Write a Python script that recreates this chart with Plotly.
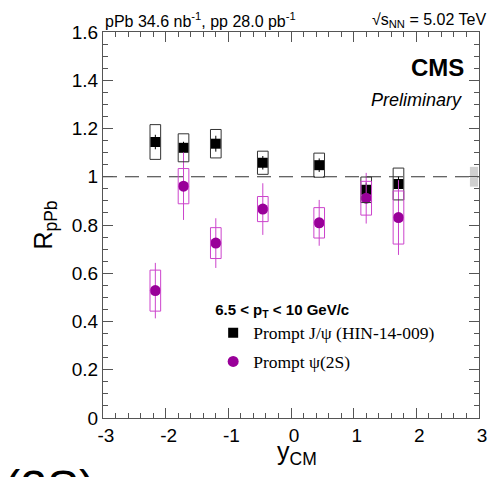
import plotly.graph_objects as go

# ---- data ----
y_cm = [-2.165, -1.715, -1.2, -0.45, 0.45, 1.2, 1.715]

jpsi_r = [1.144, 1.120, 1.137, 1.058, 1.048, 0.946, 0.970]
jpsi_stat = [0.030, 0.025, 0.033, 0.028, 0.028, 0.030, 0.030]
jpsi_sys = [0.072, 0.058, 0.059, 0.048, 0.050, 0.053, 0.066]

psi2s_r = [0.528, 0.961, 0.725, 0.866, 0.809, 0.911, 0.831]
psi2s_stat = [0.115, 0.140, 0.103, 0.107, 0.095, 0.105, 0.155]
psi2s_sys = [0.085, 0.073, 0.064, 0.052, 0.063, 0.070, 0.110]

global_unc = 0.041
box_halfwidth = 0.085

x_ticks = [-3, -2, -1, 0, 1, 2, 3]
y_ticks = [0, 0.2, 0.4, 0.6, 0.8, 1.0, 1.2, 1.4, 1.6]
y_ticklabels = ["0", "0.2", "0.4", "0.6", "0.8", "1", "1.2", "1.4", "1.6"]

SANS = "Liberation Sans, Arial, sans-serif"
SERIF = "Liberation Serif, Times New Roman, serif"
PURPLE = "#990099"
PINK = "#cc44cc"

fig = go.Figure()

shapes = []
# systematic boxes
for x, v, s in zip(y_cm, jpsi_r, jpsi_sys):
    shapes.append(dict(type="rect", xref="x", yref="y", x0=x - box_halfwidth, x1=x + box_halfwidth,
                       y0=v - s, y1=v + s, line=dict(color="#333333", width=1), fillcolor="rgba(0,0,0,0)"))
for x, v, s in zip(y_cm, psi2s_r, psi2s_sys):
    shapes.append(dict(type="rect", xref="x", yref="y", x0=x - box_halfwidth, x1=x + box_halfwidth,
                       y0=v - s, y1=v + s, line=dict(color=PINK, width=1), fillcolor="rgba(0,0,0,0)"))
# global uncertainty box
shapes.append(dict(type="rect", xref="x", yref="y", x0=2.855, x1=2.985,
                   y0=1 - global_unc, y1=1 + global_unc, line=dict(width=0), fillcolor="#d0d0d0",
                   layer="below"))
# unity line
shapes.append(dict(type="line", xref="x", yref="y", x0=-3, x1=3, y0=1, y1=1,
                   line=dict(color="#333333", width=1.2, dash="14px,8px"), layer="below"))

fig.add_trace(go.Scatter(
    x=y_cm, y=jpsi_r, mode="markers", name="Prompt J/\u03c8 (HIN-14-009)",
    marker=dict(symbol="square", size=10, color="black"),
    error_y=dict(type="data", array=jpsi_stat, color="black", thickness=1, width=0),
    legendgroup="a"))
fig.add_trace(go.Scatter(
    x=y_cm, y=psi2s_r, mode="markers", name="Prompt \u03c8(2S)",
    marker=dict(symbol="circle", size=11, color=PURPLE),
    error_y=dict(type="data", array=psi2s_stat, color=PINK, thickness=1, width=0),
    legendgroup="b"))

axis_common = dict(showline=True, linecolor="#555555", linewidth=1, mirror="allticks",
                   ticks="inside", ticklen=10, tickcolor="#555555", showgrid=False, zeroline=False,
                   automargin=False,
                   tickfont=dict(family=SANS, size=19, color="black"))

fig.update_xaxes(range=[-3, 3], tickvals=x_ticks, ticktext=[str(t) for t in x_ticks],
                 ticklabelshift=3,
                 minor=dict(dtick=0.2, ticklen=5, ticks="inside", tickcolor="#555555"),
                 **axis_common)
fig.update_yaxes(range=[0, 1.6], tickvals=y_ticks, ticktext=y_ticklabels,
                 minor=dict(dtick=0.05, ticklen=5, ticks="inside", tickcolor="#555555"),
                 title=dict(text="R<sub>pPb</sub>", font=dict(family=SANS, size=25, color="black"), standoff=12),
                 **axis_common)

annotations = [
    dict(text="y<sub>CM</sub>", xref="paper", yref="paper", x=0.515, y=-0.045,
         xanchor="center", yanchor="top", showarrow=False,
         font=dict(family=SANS, size=25, color="black")),
    dict(text="pPb 34.6 nb<sup>-1</sup>, pp 28.0 pb<sup>-1</sup>", xref="paper", yref="paper",
         x=0.0, y=1.0, xanchor="left", yanchor="bottom", showarrow=False,
         font=dict(family=SANS, size=16, color="black")),
    dict(text="\u221as<sub>NN</sub> = 5.02 TeV", xref="paper", yref="paper",
         x=1.024, y=1.0, xanchor="right", yanchor="bottom", showarrow=False,
         font=dict(family=SANS, size=16, color="black")),
    dict(text="<b>CMS</b>", xref="paper", yref="paper", x=0.965, y=0.907,
         xanchor="right", yanchor="middle", showarrow=False,
         font=dict(family=SANS, size=24, color="black")),
    dict(text="<i>Preliminary</i>", xref="paper", yref="paper", x=0.96, y=0.825,
         xanchor="right", yanchor="middle", showarrow=False,
         font=dict(family=SANS, size=18, color="black")),
    dict(text="\u03c8(2S)", xref="paper", yref="paper", x=-0.016, y=-0.107,
         xanchor="right", yanchor="top", showarrow=False,
         font=dict(family=SANS, size=48, color="black")),
]

fig.update_layout(
    width=491, height=477,
    margin=dict(l=103, r=12, t=32, b=59),
    paper_bgcolor="white", plot_bgcolor="white",
    shapes=shapes, annotations=annotations,
    showlegend=True,
    legend=dict(x=0.293, y=0.318, xanchor="left", yanchor="top",
                bgcolor="rgba(0,0,0,0)", borderwidth=0,
                font=dict(family=SERIF, size=17.5, color="black"),
                title=dict(text="<b>6.5 < p<sub>T</sub> < 10 GeV/c</b>",
                           font=dict(family=SANS, size=15, color="black")),
                traceorder="grouped", tracegroupgap=3),
)

fig.write_html("out.html")
